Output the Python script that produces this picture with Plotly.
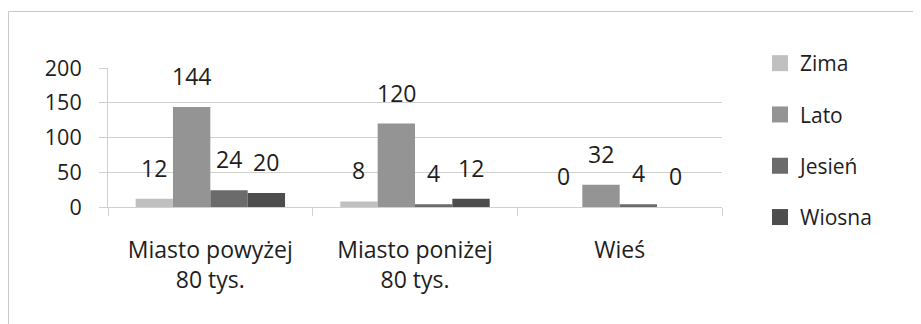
import plotly.graph_objects as go

categories = ["Miasto powyżej<br>80 tys.", "Miasto poniżej<br>80 tys.", "Wieś"]
series_names = ["Zima", "Lato", "Jesień", "Wiosna"]
zima = [12, 8, 0]
lato = [144, 120, 32]
jesien = [24, 4, 4]
wiosna = [20, 12, 0]
series_values = [zima, lato, jesien, wiosna]
colors = ["#c0c0c0", "#949494", "#6b6b6b", "#4d4d4d"]
y_ticks = [0, 50, 100, 150, 200]

# page body has an 8px margin, so the figure is placed at (8, 8)
W, H = 913, 316
ML, MR, MT, MB = 100, 199, 60, 117
BARGAP = 0.27
FONT = "Open Sans"
TXT = "#1e1e1e"
GRID = "#d0d0d0"

fig = go.Figure()
for name, vals, c in zip(series_names, series_values, colors):
    fig.add_trace(go.Bar(x=categories, y=vals, name=name, marker=dict(color=c, line=dict(width=0)),
                         showlegend=False, hoverinfo="skip"))
for name, c in zip(series_names, colors):
    fig.add_trace(go.Scatter(x=[None], y=[None], mode="markers", name=name, legendgroup=name,
                             marker=dict(symbol="square", size=16, color=c)))

plot_w = W - ML - MR
plot_h = H - MT - MB
bar_px = plot_w / len(categories) * (1 - BARGAP) / len(series_names)
annotations = []
for i, vals in enumerate(series_values):
    for cat, v in zip(categories, vals):
        annotations.append(dict(x=cat, y=v, xref="x", yref="y", text=str(v), showarrow=False,
                                xshift=(i - 1.5) * bar_px, yshift=31, yanchor="middle",
                                font=dict(family=FONT, size=23, color=TXT)))

fig.update_layout(
    width=W, height=H,
    margin=dict(l=ML, r=MR, t=MT, b=MB, pad=0),
    paper_bgcolor="white", plot_bgcolor="white",
    barmode="group", bargap=BARGAP, bargroupgap=0,
    font=dict(family=FONT, color=TXT),
    annotations=annotations,
    legend=dict(x=(752 - ML) / plot_w, xanchor="left", y=(MT + plot_h - 35) / plot_h, yanchor="top",
                font=dict(family=FONT, size=21, color=TXT), tracegroupgap=21, maxheight=400,
                bgcolor="rgba(0,0,0,0)"),
    shapes=[dict(type="rect", xref="paper", yref="paper",
                 x0=(0.5 - ML) / plot_w, x1=1.5, y0=-1.0, y1=(MT + plot_h - 3.5) / plot_h,
                 line=dict(color="#c8c8c8", width=1), fillcolor="rgba(0,0,0,0)", layer="below")],
    xaxis=dict(type="category", tickson="boundaries", ticks="outside", ticklen=8, tickcolor=GRID,
               showline=True, linecolor=GRID, linewidth=1, showgrid=False,
               tickfont=dict(family=FONT, size=23, color=TXT), ticklabelstandoff=22),
    yaxis=dict(range=[0, 200], tickvals=y_ticks, ticks="outside", ticklen=8, tickcolor=GRID,
               showline=True, linecolor=GRID, gridcolor=GRID, gridwidth=1, zeroline=False,
               tickfont=dict(family=FONT, size=21.5, color=TXT), ticklabelstandoff=13),
)

fig.write_html("out.html")
